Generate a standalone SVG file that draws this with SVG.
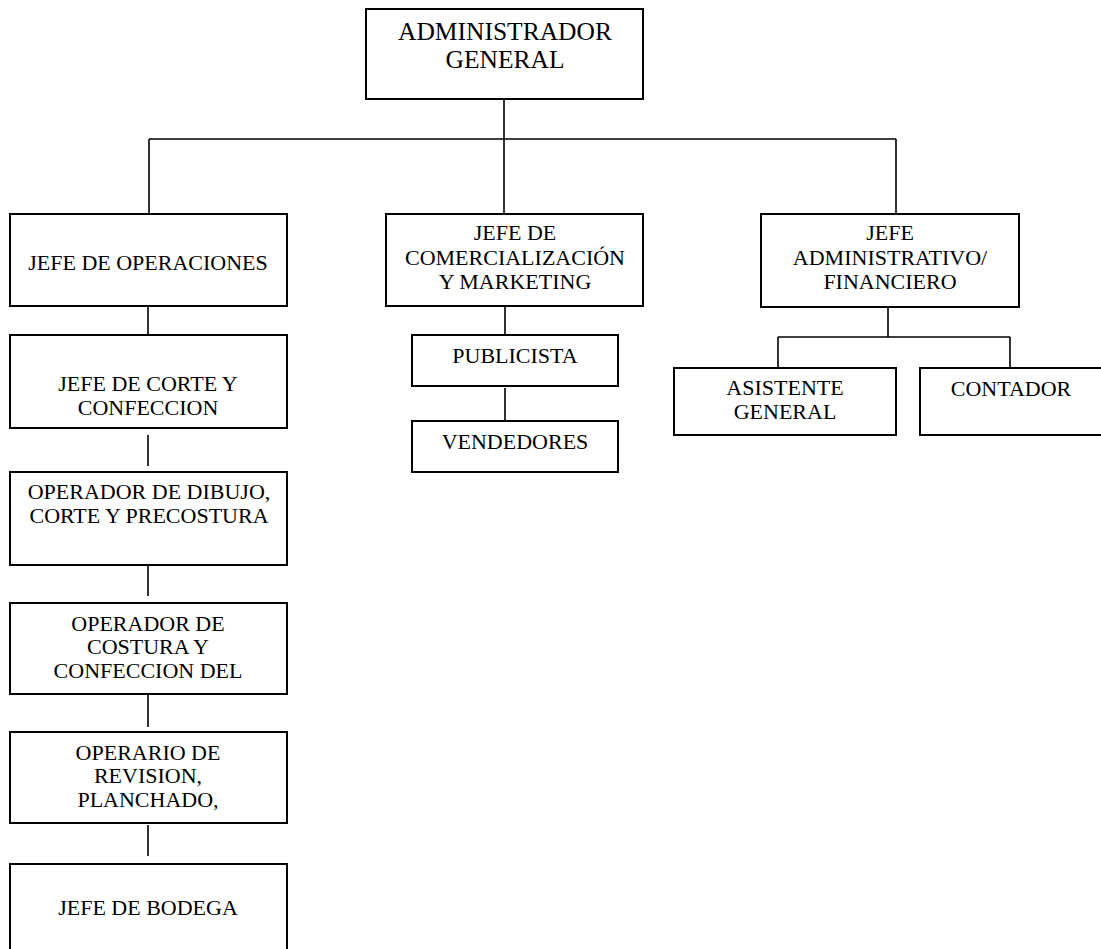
<svg xmlns="http://www.w3.org/2000/svg" width="1101" height="949" viewBox="0 0 1101 949">
<style>
.box{fill:#fff;stroke:#000;stroke-width:2}
.ln{fill:none;stroke:#000;stroke-width:1.6}
text{font-family:"Liberation Serif","Times New Roman",serif;font-size:22px;fill:#000;text-anchor:middle}
.big{font-size:25.5px}
</style>
<rect width="1101" height="949" fill="#fff"/>
<g id="connectors">
<path class="ln" d="M504 99V213M149 139H896M149 139V214M896 139V214"/>
<path class="ln" d="M148 307V335M148 435V466M148 565V596M148 695V727M148 825V856"/>
<path class="ln" d="M505 307V335M505 388V420"/>
<path class="ln" d="M888 307V337M778 337H1010M778 337V368M1010 337V368"/>
</g>
<g id="admin"><rect class="box" x="366" y="9" width="277" height="90"/>
<text class="big" x="505" y="40">ADMINISTRADOR</text><text class="big" x="505" y="68">GENERAL</text></g>
<g id="jefe-operaciones"><rect class="box" x="10" y="214" width="277" height="92"/>
<text x="148" y="270">JEFE DE OPERACIONES</text></g>
<g id="jefe-comercializacion"><rect class="box" x="386" y="214" width="257" height="92"/>
<text x="515" y="240">JEFE DE</text><text x="515" y="265">COMERCIALIZACIÓN</text><text x="515" y="289">Y MARKETING</text></g>
<g id="jefe-administrativo"><rect class="box" x="761" y="214" width="258" height="93"/>
<text x="890" y="240">JEFE</text><text x="890" y="265">ADMINISTRATIVO/</text><text x="890" y="289">FINANCIERO</text></g>
<g id="jefe-corte"><rect class="box" x="10" y="335" width="277" height="93"/>
<text x="148" y="391">JEFE DE CORTE Y</text><text x="148" y="415">CONFECCION</text></g>
<g id="operador-dibujo"><rect class="box" x="10" y="472" width="277" height="93"/>
<text x="149" y="499">OPERADOR DE DIBUJO,</text><text x="149" y="523">CORTE Y PRECOSTURA</text></g>
<g id="operador-costura"><rect class="box" x="10" y="603" width="277" height="91"/>
<text x="148" y="631">OPERADOR DE</text><text x="148" y="654">COSTURA Y</text><text x="148" y="678">CONFECCION DEL</text></g>
<g id="operario-revision"><rect class="box" x="10" y="732" width="277" height="91"/>
<text x="148" y="760">OPERARIO DE</text><text x="148" y="783">REVISION,</text><text x="148" y="807">PLANCHADO,</text></g>
<g id="jefe-bodega"><rect class="box" x="10" y="864" width="277" height="100"/>
<text x="148" y="915">JEFE DE BODEGA</text></g>
<g id="publicista"><rect class="box" x="412" y="335" width="206" height="51"/>
<text x="515" y="363">PUBLICISTA</text></g>
<g id="vendedores"><rect class="box" x="412" y="421" width="206" height="51"/>
<text x="515" y="449">VENDEDORES</text></g>
<g id="asistente"><rect class="box" x="674" y="368" width="222" height="67"/>
<text x="785" y="395">ASISTENTE</text><text x="785" y="419">GENERAL</text></g>
<g id="contador"><rect class="box" x="920" y="368" width="183" height="67"/>
<text x="1011" y="396">CONTADOR</text></g>
</svg>
